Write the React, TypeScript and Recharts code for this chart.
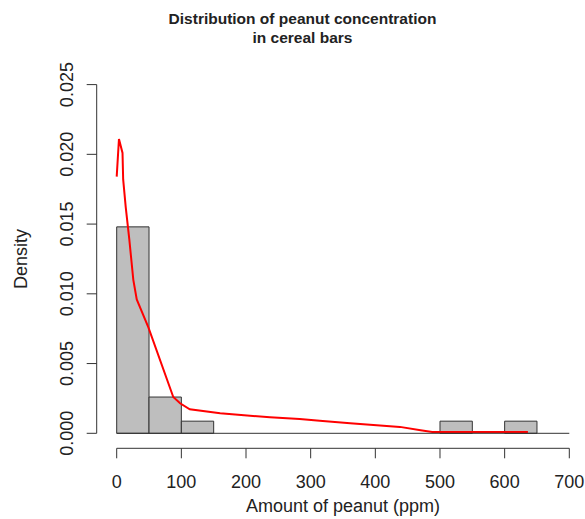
import React from 'react';
import { ComposedChart, Line, XAxis, YAxis, ReferenceArea } from 'recharts';

// Histogram bins (ppm) and their densities
const binStart = [0, 50, 100, 500, 600];
const binEnd = [50, 100, 150, 550, 650];
const binDensity = [0.0148, 0.0026, 0.00087, 0.00087, 0.00087];

// Kernel density curve
const kdeX = [0, 3.5, 9, 10, 14, 19.5, 25.7, 31, 49, 87.5, 98, 113, 160, 237, 283, 314, 361, 438, 470, 488, 636];
const kdeY = [0.0184, 0.0211, 0.0201, 0.0182, 0.0162, 0.0139, 0.011, 0.0096, 0.0076, 0.0026, 0.00215, 0.00172, 0.00143, 0.00115, 0.00103, 0.0009, 0.00072, 0.00046, 0.00022, 0.0001, 0.0001];

const xTicks = [0, 100, 200, 300, 400, 500, 600, 700];
const yTicks = [0, 0.005, 0.01, 0.015, 0.02, 0.025];

const FONT = '"Liberation Sans", Arial, sans-serif';
const INK = '#222';
const LINE = '#333';

const curve = kdeX.map((x, i) => ({ x, y: kdeY[i] }));

const YTick = (props: any) => {
  const { x, y, payload } = props;
  return (
    <text
      x={x}
      y={y}
      transform={`rotate(-90, ${x}, ${y})`}
      textAnchor="middle"
      fontSize={18}
      fontFamily={FONT}
      fill={INK}
    >
      {Number(payload.value).toFixed(3)}
    </text>
  );
};

const DensityLabel = (props: any) => {
  const vb = props.viewBox || {};
  const cx = vb.x + 27;
  const cy = vb.y + vb.height / 2;
  return (
    <text
      x={cx}
      y={cy}
      transform={`rotate(-90, ${cx}, ${cy})`}
      textAnchor="middle"
      fontSize={18}
      fontFamily={FONT}
      fill={INK}
    >
      Density
    </text>
  );
};

export default function App() {
  return (
    <div style={{ position: 'absolute', left: 0, top: 0, width: 585, height: 519, background: '#fff' }}>
      <svg width={585} height={519} style={{ position: 'absolute', left: 0, top: 0 }}>
        <text x={302.5} y={23.5} textAnchor="middle" fontSize={15.5} fontWeight="bold" fontFamily={FONT} fill={INK}>
          Distribution of peanut concentration
        </text>
        <text x={302.5} y={42.5} textAnchor="middle" fontSize={15.5} fontWeight="bold" fontFamily={FONT} fill={INK}>
          in cereal bars
        </text>
      </svg>
      <div style={{ position: 'absolute', left: 0, top: 0 }}>
        <ComposedChart
          width={585}
          height={519}
          data={curve}
          margin={{ top: 84.6, right: 15.7, bottom: 0, left: 0 }}
        >
          {/* baseline drawn at density 0 */}
          <XAxis
            xAxisId="base"
            dataKey="x"
            type="number"
            domain={[0, 700]}
            ticks={xTicks}
            tick={false}
            tickLine={false}
            axisLine={{ stroke: LINE, strokeWidth: 1 }}
            height={15}
          />
          <XAxis
            xAxisId="main"
            dataKey="x"
            type="number"
            domain={[0, 700]}
            ticks={xTicks}
            interval={0}
            tickSize={10}
            tickMargin={17}
            tick={{ fontSize: 18, fill: INK, fontFamily: FONT }}
            tickLine={{ stroke: LINE }}
            axisLine={{ stroke: LINE }}
            height={70.7}
            label={{
              value: 'Amount of peanut (ppm)',
              position: 'insideBottom',
              offset: 7.3,
              fontSize: 18,
              fill: INK,
              fontFamily: FONT,
            }}
          />
          <YAxis
            yAxisId="gap"
            type="number"
            domain={[0, 0.025]}
            ticks={yTicks}
            tick={false}
            tickLine={false}
            axisLine={false}
            width={20}
          />
          <YAxis
            yAxisId="main"
            type="number"
            domain={[0, 0.025]}
            ticks={yTicks}
            interval={0}
            tickSize={10}
            tickMargin={13.7}
            tick={<YTick />}
            tickLine={{ stroke: LINE }}
            axisLine={{ stroke: LINE }}
            width={96.7}
            label={<DensityLabel />}
          />
          {binStart.map((s, i) => (
            <ReferenceArea
              key={s}
              xAxisId="main"
              yAxisId="main"
              x1={s}
              x2={binEnd[i]}
              y1={0}
              y2={binDensity[i]}
              fill="#bebebe"
              fillOpacity={1}
              stroke={LINE}
              strokeWidth={1}
              ifOverflow="visible"
            />
          ))}
          <Line
            xAxisId="main"
            yAxisId="main"
            dataKey="y"
            type="linear"
            stroke="#ff0000"
            strokeWidth={2}
            dot={false}
            activeDot={false}
            isAnimationActive={false}
          />
        </ComposedChart>
      </div>
    </div>
  );
}
